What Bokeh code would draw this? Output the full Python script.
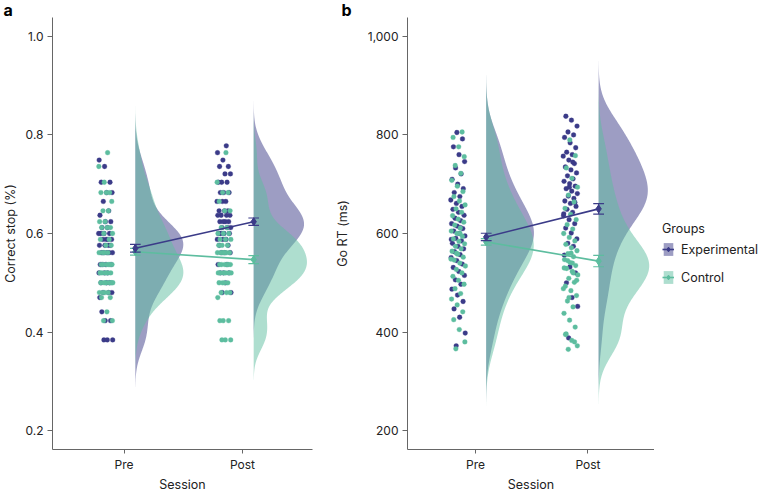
import numpy as np
from bokeh.plotting import figure
from bokeh.models import Range1d, FixedTicker, Legend, LegendItem
from bokeh.layouts import row
from bokeh.embed import file_html
from bokeh.resources import INLINE

# ---------------- data ----------------
sessions = ["Pre", "Post"]
groups = ["Experimental", "Control"]

# Panel a: correct stop (proportion), one value per participant
stop_pre_exp = [0.384, 0.384, 0.384, 0.441, 0.423, 0.423, 0.47, 0.48, 0.48, 0.48,
                0.5, 0.5, 0.5, 0.52, 0.52, 0.52, 0.537, 0.537, 0.537, 0.537,
                0.561, 0.561, 0.561, 0.561, 0.561, 0.576, 0.576, 0.576, 0.576, 0.588,
                0.588, 0.588, 0.6, 0.6, 0.6, 0.6, 0.612, 0.612, 0.624, 0.624,
                0.637, 0.646, 0.665, 0.683, 0.683, 0.704, 0.704, 0.736, 0.749, 0.588]
stop_pre_ctl = [0.423, 0.423, 0.441, 0.47, 0.47, 0.48, 0.48, 0.48, 0.48, 0.5,
                0.5, 0.5, 0.5, 0.5, 0.5, 0.52, 0.52, 0.52, 0.52, 0.52,
                0.537, 0.537, 0.537, 0.537, 0.537, 0.537, 0.561, 0.561, 0.561, 0.561,
                0.576, 0.576, 0.588, 0.588, 0.6, 0.6, 0.612, 0.612, 0.612, 0.624,
                0.624, 0.646, 0.646, 0.665, 0.683, 0.683, 0.683, 0.704, 0.736, 0.764]
stop_post_exp = [0.48, 0.48, 0.5, 0.52, 0.52, 0.52, 0.537, 0.537, 0.561, 0.561,
                 0.561, 0.576, 0.576, 0.588, 0.588, 0.588, 0.6, 0.6, 0.6, 0.6,
                 0.612, 0.612, 0.612, 0.624, 0.624, 0.624, 0.624, 0.637, 0.637, 0.637,
                 0.637, 0.646, 0.646, 0.646, 0.665, 0.665, 0.665, 0.683, 0.683, 0.683,
                 0.704, 0.704, 0.704, 0.721, 0.721, 0.736, 0.736, 0.749, 0.764, 0.778]
stop_post_ctl = [0.384, 0.384, 0.384, 0.423, 0.423, 0.423, 0.47, 0.48, 0.48, 0.48,
                 0.5, 0.5, 0.5, 0.5, 0.52, 0.52, 0.52, 0.52, 0.52, 0.52,
                 0.537, 0.537, 0.537, 0.537, 0.537, 0.537, 0.561, 0.561, 0.561, 0.561,
                 0.561, 0.561, 0.576, 0.576, 0.576, 0.588, 0.588, 0.588, 0.6, 0.6,
                 0.6, 0.612, 0.612, 0.646, 0.646, 0.665, 0.683, 0.683, 0.704, 0.764]
stop_mean_exp = [0.570, 0.624]
stop_se_exp = [0.008, 0.0075]
stop_mean_ctl = [0.563, 0.547]
stop_se_ctl = [0.007, 0.008]
stop_ticks = [0.2, 0.4, 0.6, 0.8, 1.0]
stop_tick_labels = ["0.2", "0.4", "0.6", "0.8", "1.0"]

# Panel b: Go RT (ms)
rt_pre_exp = [372, 398, 430, 447, 462, 475, 487, 497, 506, 515, 523, 531, 538, 545, 551,
              557, 563, 569, 574, 580, 585, 590, 595, 600, 605, 610, 615, 620, 626, 631,
              637, 643, 649, 655, 661, 668, 675, 683, 691, 700, 710, 721, 733, 746, 760,
              776, 792, 805, 588, 612]
rt_pre_ctl = [366, 380, 405, 425, 441, 455, 467, 478, 488, 497, 505, 513, 520, 527, 534,
              540, 546, 552, 558, 564, 569, 574, 579, 584, 589, 594, 600, 605, 611, 617,
              623, 629, 636, 643, 650, 658, 666, 675, 685, 696, 708, 722, 738, 756, 776,
              795, 806, 560, 548, 600]
rt_post_exp = [388, 452, 470, 500, 520, 532, 556, 574, 580, 589, 601, 611, 620, 628, 636,
               643, 649, 655, 661, 666, 671, 676, 681, 686, 691, 696, 701, 706, 711, 717,
               723, 729, 735, 742, 749, 757, 760, 765, 774, 784, 795, 800, 806, 818, 830,
               838, 663, 694, 640, 745]
rt_post_ctl = [365, 372, 383, 396, 410, 424, 438, 451, 463, 474, 484, 493, 501, 509, 516,
               523, 529, 535, 541, 547, 553, 559, 565, 571, 578, 585, 592, 600, 609, 618,
               628, 639, 651, 664, 678, 694, 712, 733, 758, 790, 530, 520, 545, 505, 560,
               395, 380, 470, 488, 540]
rt_mean_exp = [593, 650]
rt_se_exp = [7.5, 10.5]
rt_mean_ctl = [583, 544]
rt_se_ctl = [6.5, 11.5]
rt_ticks = [200, 400, 600, 800, 1000]
rt_tick_labels = ["200", "400", "600", "800", "1,000"]

# ---------------- style ----------------
FONT = "Inter"
EXP_DARK = "#3b3b88"
CTL_DARK = "#5dbd9f"
AXIS_COL = "#666666"
TXT = "#222222"
H = 494
TOP = 17
BOTTOM = 43


def kde(vals):
    v = np.asarray(vals, dtype=float)
    n = len(v)
    sd = v.std(ddof=1)
    q75, q25 = np.percentile(v, [75, 25])
    bw = 0.9 * min(sd, (q75 - q25) / 1.34) * n ** -0.2
    g = np.linspace(v.min() - 3 * bw, v.max() + 3 * bw, 240)
    d = np.exp(-0.5 * ((g[:, None] - v[None, :]) / bw) ** 2).sum(axis=1) / (n * bw * np.sqrt(2 * np.pi))
    return g, d


def jitter(n, half):
    i = np.arange(n)
    return ((i * 0.6180339887 + 0.37) % 1.0 - 0.5) * 2 * half


def panel(width, left, yr, ticks, tlabels, ylabel, data, means, ses,
          jit, cap, label_standoff, letter, letter_off):
    p = figure(width=width, height=H, output_backend="svg", toolbar_location=None,
               x_range=Range1d(0.395, 2.592), y_range=Range1d(*yr),
               min_border_left=left, min_border_right=0, min_border_top=TOP,
               min_border_bottom=BOTTOM)
    p.outline_line_color = None
    p.grid.visible = False
    p.background_fill_color = "white"

    p.title.text = letter
    p.title.text_font = FONT
    p.title.text_font_size = "16px"
    p.title.text_font_style = "bold"
    p.title.text_color = "black"
    p.title.align = "left"
    p.title.offset = letter_off
    p.title.standoff = -5

    for ax in (p.xaxis[0], p.yaxis[0]):
        ax.axis_line_color = AXIS_COL
        ax.major_tick_line_color = AXIS_COL
        ax.minor_tick_line_color = None
        ax.major_tick_out = 5
        ax.major_tick_in = 0
        ax.major_label_text_font = FONT
        ax.major_label_text_font_size = "12px"
        ax.major_label_text_color = TXT
        ax.axis_label_text_font = FONT
        ax.axis_label_text_font_size = "12.5px"
        ax.axis_label_text_font_style = "normal"
        ax.axis_label_text_color = TXT

    p.xaxis.ticker = FixedTicker(ticks=[1, 2])
    p.xaxis.major_label_overrides = {1: sessions[0], 2: sessions[1]}
    p.xaxis.axis_label = "Session"
    p.xaxis.major_tick_out = 4
    p.xaxis.major_label_standoff = 3
    p.xaxis.axis_label_standoff = 2

    p.yaxis.ticker = FixedTicker(ticks=ticks)
    p.yaxis.major_label_overrides = {t: l for t, l in zip(ticks, tlabels)}
    p.yaxis.axis_label = ylabel
    p.yaxis.major_label_standoff = 4
    p.yaxis.axis_label_standoff = label_standoff

    (pre_e, pre_c, post_e, post_c) = data
    # jittered points
    for vals, xc, col in ((pre_e, 0.845, EXP_DARK), (pre_c, 0.845, CTL_DARK),
                          (post_e, 1.845, EXP_DARK), (post_c, 1.845, CTL_DARK)):
        off = jitter(len(vals), jit)
        if col == CTL_DARK:
            off = -off[::-1]
        p.scatter(xc + off, vals, size=4.8, fill_color=col, line_color=col, line_width=0.3)

    # half violins
    dens = [kde(v) for v in data]
    gmax = max(d.max() for _, d in dens)
    scale = 0.45 / gmax
    for (g, d), x0, col in zip(dens, (1.095, 1.095, 2.095, 2.095),
                               (EXP_DARK, CTL_DARK, EXP_DARK, CTL_DARK)):
        p.harea(y=g, x1=np.full_like(g, x0), x2=x0 + d * scale,
                fill_color=col, fill_alpha=0.5)

    # means, error bars, connecting lines
    xs = [1.095, 2.095]
    for m, s, col in ((means[1], ses[1], CTL_DARK), (means[0], ses[0], EXP_DARK)):
        p.line(xs, m, line_color=col, line_width=1.6)
        lo = [a - b for a, b in zip(m, s)]
        hi = [a + b for a, b in zip(m, s)]
        p.segment(x0=xs, y0=lo, x1=xs, y1=hi, line_color=col, line_width=1.2)
        p.segment(x0=[x - cap for x in xs], y0=lo, x1=[x + cap for x in xs], y1=lo,
                  line_color=col, line_width=1.2)
        p.segment(x0=[x - cap for x in xs], y0=hi, x1=[x + cap for x in xs], y1=hi,
                  line_color=col, line_width=1.2)
        p.scatter(xs, m, marker="diamond", size=8, fill_color=col, line_color=col)
    return p


pa = panel(330, 52, (0.1616, 1.0384), stop_ticks, stop_tick_labels, "Correct stop (%)",
           (stop_pre_exp, stop_pre_ctl, stop_post_exp, stop_post_ctl),
           (stop_mean_exp, stop_mean_ctl), (stop_se_exp, stop_se_ctl),
           0.06, 0.045, 4, "a", -49)
pa.min_border_right = 18
pb = panel(324, 77, (161.6, 1038.4), rt_ticks, rt_tick_labels, "Go RT (ms)",
           (rt_pre_exp, rt_pre_ctl, rt_post_exp, rt_post_ctl),
           (rt_mean_exp, rt_mean_ctl), (rt_se_exp, rt_se_ctl),
           0.065, 0.048, 15, "b", -66)

# legend panel (placeholder renderers sit outside the visible range; only their keys show)
pc = figure(width=111, height=H, output_backend="svg", toolbar_location=None,
            x_range=Range1d(0, 1), y_range=Range1d(0, 1), x_axis_type=None, y_axis_type=None,
            min_border_left=0, min_border_right=0, min_border_top=TOP, min_border_bottom=BOTTOM)
pc.outline_line_color = None
pc.grid.visible = False
items = []
for name, col in zip(groups, (EXP_DARK, CTL_DARK)):
    ra = pc.harea(y=[5, 6], x1=[5, 5], x2=[6, 6], fill_color=col, fill_alpha=0.5)
    rl = pc.line(x=[5, 6], y=[5, 6], line_color=col, line_width=1.6)
    rs = pc.scatter(x=[5], y=[5], marker="diamond", size=8, fill_color=col, line_color=col)
    items.append(LegendItem(label=name, renderers=[ra, rl, rs]))
lg = Legend(items=items, location=(8, 164), title="Groups",
            title_text_font=FONT, title_text_font_size="12.5px",
            title_text_font_style="normal", title_text_color=TXT,
            title_standoff=5, label_text_font=FONT,
            label_text_font_size="12.5px", label_text_color=TXT,
            glyph_width=12, glyph_height=16, label_height=16,
            spacing=12, label_standoff=7, padding=0, margin=0,
            border_line_color=None, background_fill_alpha=0)
pc.add_layout(lg, "center")

layout = row(pa, pb, pc)
open("out.html", "w").write(file_html(layout, INLINE))
